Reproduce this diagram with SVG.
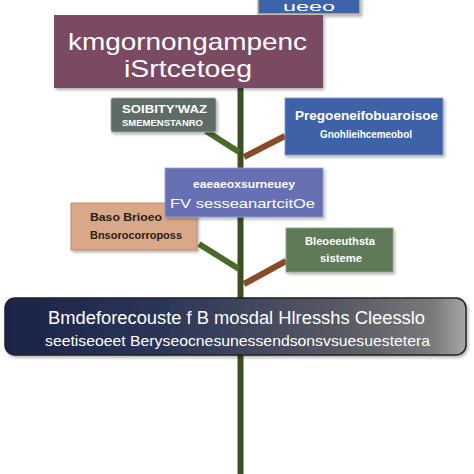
<svg xmlns="http://www.w3.org/2000/svg" width="474" height="474" viewBox="0 0 474 474">
<defs>
<linearGradient id="bar" x1="0" y1="0" x2="1" y2="0">
<stop offset="0" stop-color="#1a2448"/>
<stop offset="0.35" stop-color="#2c3658"/>
<stop offset="0.75" stop-color="#5a5c64"/>
<stop offset="0.93" stop-color="#7a7a7c"/>
<stop offset="1" stop-color="#a8a8a8"/>
</linearGradient>
<filter id="sh" x="-10%" y="-10%" width="130%" height="140%">
<feDropShadow dx="1.5" dy="2" stdDeviation="1.5" flood-color="#000" flood-opacity="0.3"/>
</filter>
</defs>
<style>
text{font-family:"Liberation Sans",Arial,sans-serif;fill:#fff;lengthAdjust:spacingAndGlyphs}
.s{font-size:11px;font-weight:bold}
.d{fill:#2a2018}
.br{stroke-width:6;stroke-linecap:butt}
.g{stroke:#4a6a2a}
.b{stroke:#8a4a28}
</style>
<rect width="474" height="474" fill="#fff"/>
<g id="connectors">
<line x1="240.5" y1="88" x2="240.5" y2="474" stroke="#3a5020" stroke-width="6"/>
<line class="br g" x1="206" y1="131" x2="239" y2="152"/>
<line class="br b" x1="244" y1="157" x2="285" y2="136"/>
<line class="br g" x1="199" y1="244" x2="239" y2="269"/>
<line class="br b" x1="244" y1="284" x2="286" y2="261"/>
</g>
<g id="top-box">
<rect x="258" y="-4" width="102" height="18" fill="#3d64aa" stroke="#c8b898" stroke-width="1.5" filter="url(#sh)"/>
<text x="283" y="11" style="font-size:12px" textLength="52" lengthAdjust="spacingAndGlyphs">ueeo</text>
</g>
<g id="title-box">
<rect x="54" y="15" width="269" height="73" fill="#7a4862" filter="url(#sh)"/>
<text x="68" y="50" style="font-size:24px" textLength="239" lengthAdjust="spacingAndGlyphs">kmgornongampenc</text>
<text x="124" y="77" style="font-size:24px" textLength="128" lengthAdjust="spacingAndGlyphs">iSrtcetoeg</text>
</g>
<g id="gray-box">
<rect x="111" y="98" width="105" height="34" fill="#5f6c66" stroke="#9aa" stroke-width="0.8" rx="2" filter="url(#sh)"/>
<text x="122" y="113" class="s" textLength="85" lengthAdjust="spacingAndGlyphs">SOIBITY'WAZ</text>
<text x="122" y="126" style="font-size:9px;font-weight:bold" textLength="81" lengthAdjust="spacingAndGlyphs">SMEMENSTANRO</text>
</g>
<g id="blue-box">
<rect x="285" y="98" width="158" height="57" fill="#3e62a8" stroke="#8a9ac8" stroke-width="0.8" filter="url(#sh)"/>
<text x="295" y="120" style="font-size:12px;font-weight:bold" textLength="143" lengthAdjust="spacingAndGlyphs">Pregoeneifobuaroisoe</text>
<text x="320" y="138" style="font-size:10px;font-weight:bold" textLength="92" lengthAdjust="spacingAndGlyphs">Gnohlieihcemeobol</text>
</g>
<g id="tan-box">
<rect x="71" y="203" width="126" height="47" fill="#d8a888" stroke="#b08060" stroke-width="0.8" filter="url(#sh)"/>
<text x="90" y="221" class="s d" textLength="72" lengthAdjust="spacingAndGlyphs">Baso Brioeo</text>
<text x="90" y="239" class="s d" textLength="92" lengthAdjust="spacingAndGlyphs">Bnsorocorroposs</text>
</g>
<g id="mid-box">
<rect x="165" y="168" width="158" height="49" fill="#6670b2" stroke="#9aa0d0" stroke-width="0.8" filter="url(#sh)"/>
<text x="193" y="188" style="font-size:11px;font-weight:bold" textLength="102" lengthAdjust="spacingAndGlyphs">eaeaeoxsurneuey</text>
<text x="170" y="208" style="font-size:13px" textLength="145" lengthAdjust="spacingAndGlyphs">FV sesseanartcitOe</text>
</g>
<g id="green-box">
<rect x="286" y="228" width="107" height="44" fill="#5f7a58" stroke="#8aa080" stroke-width="0.8" filter="url(#sh)"/>
<text x="305" y="245" style="font-size:10px;font-weight:bold" textLength="70" lengthAdjust="spacingAndGlyphs">Bleoeeuthsta</text>
<text x="320" y="262" style="font-size:10px;font-weight:bold" textLength="42" lengthAdjust="spacingAndGlyphs">sisteme</text>
</g>
<g id="bar">
<rect x="5" y="298" width="461" height="57" rx="10" fill="url(#bar)" stroke="#222" stroke-width="1.5" filter="url(#sh)"/>
<text x="48" y="324" style="font-size:18px" textLength="377" lengthAdjust="spacingAndGlyphs">Bmdeforecouste f B mosdal Hlresshs Cleesslo</text>
<text x="45" y="346" style="font-size:15px" textLength="385" lengthAdjust="spacingAndGlyphs">seetiseoeet Beryseocnesunessendsonsvsuesuestetera</text>
</g>
</svg>
